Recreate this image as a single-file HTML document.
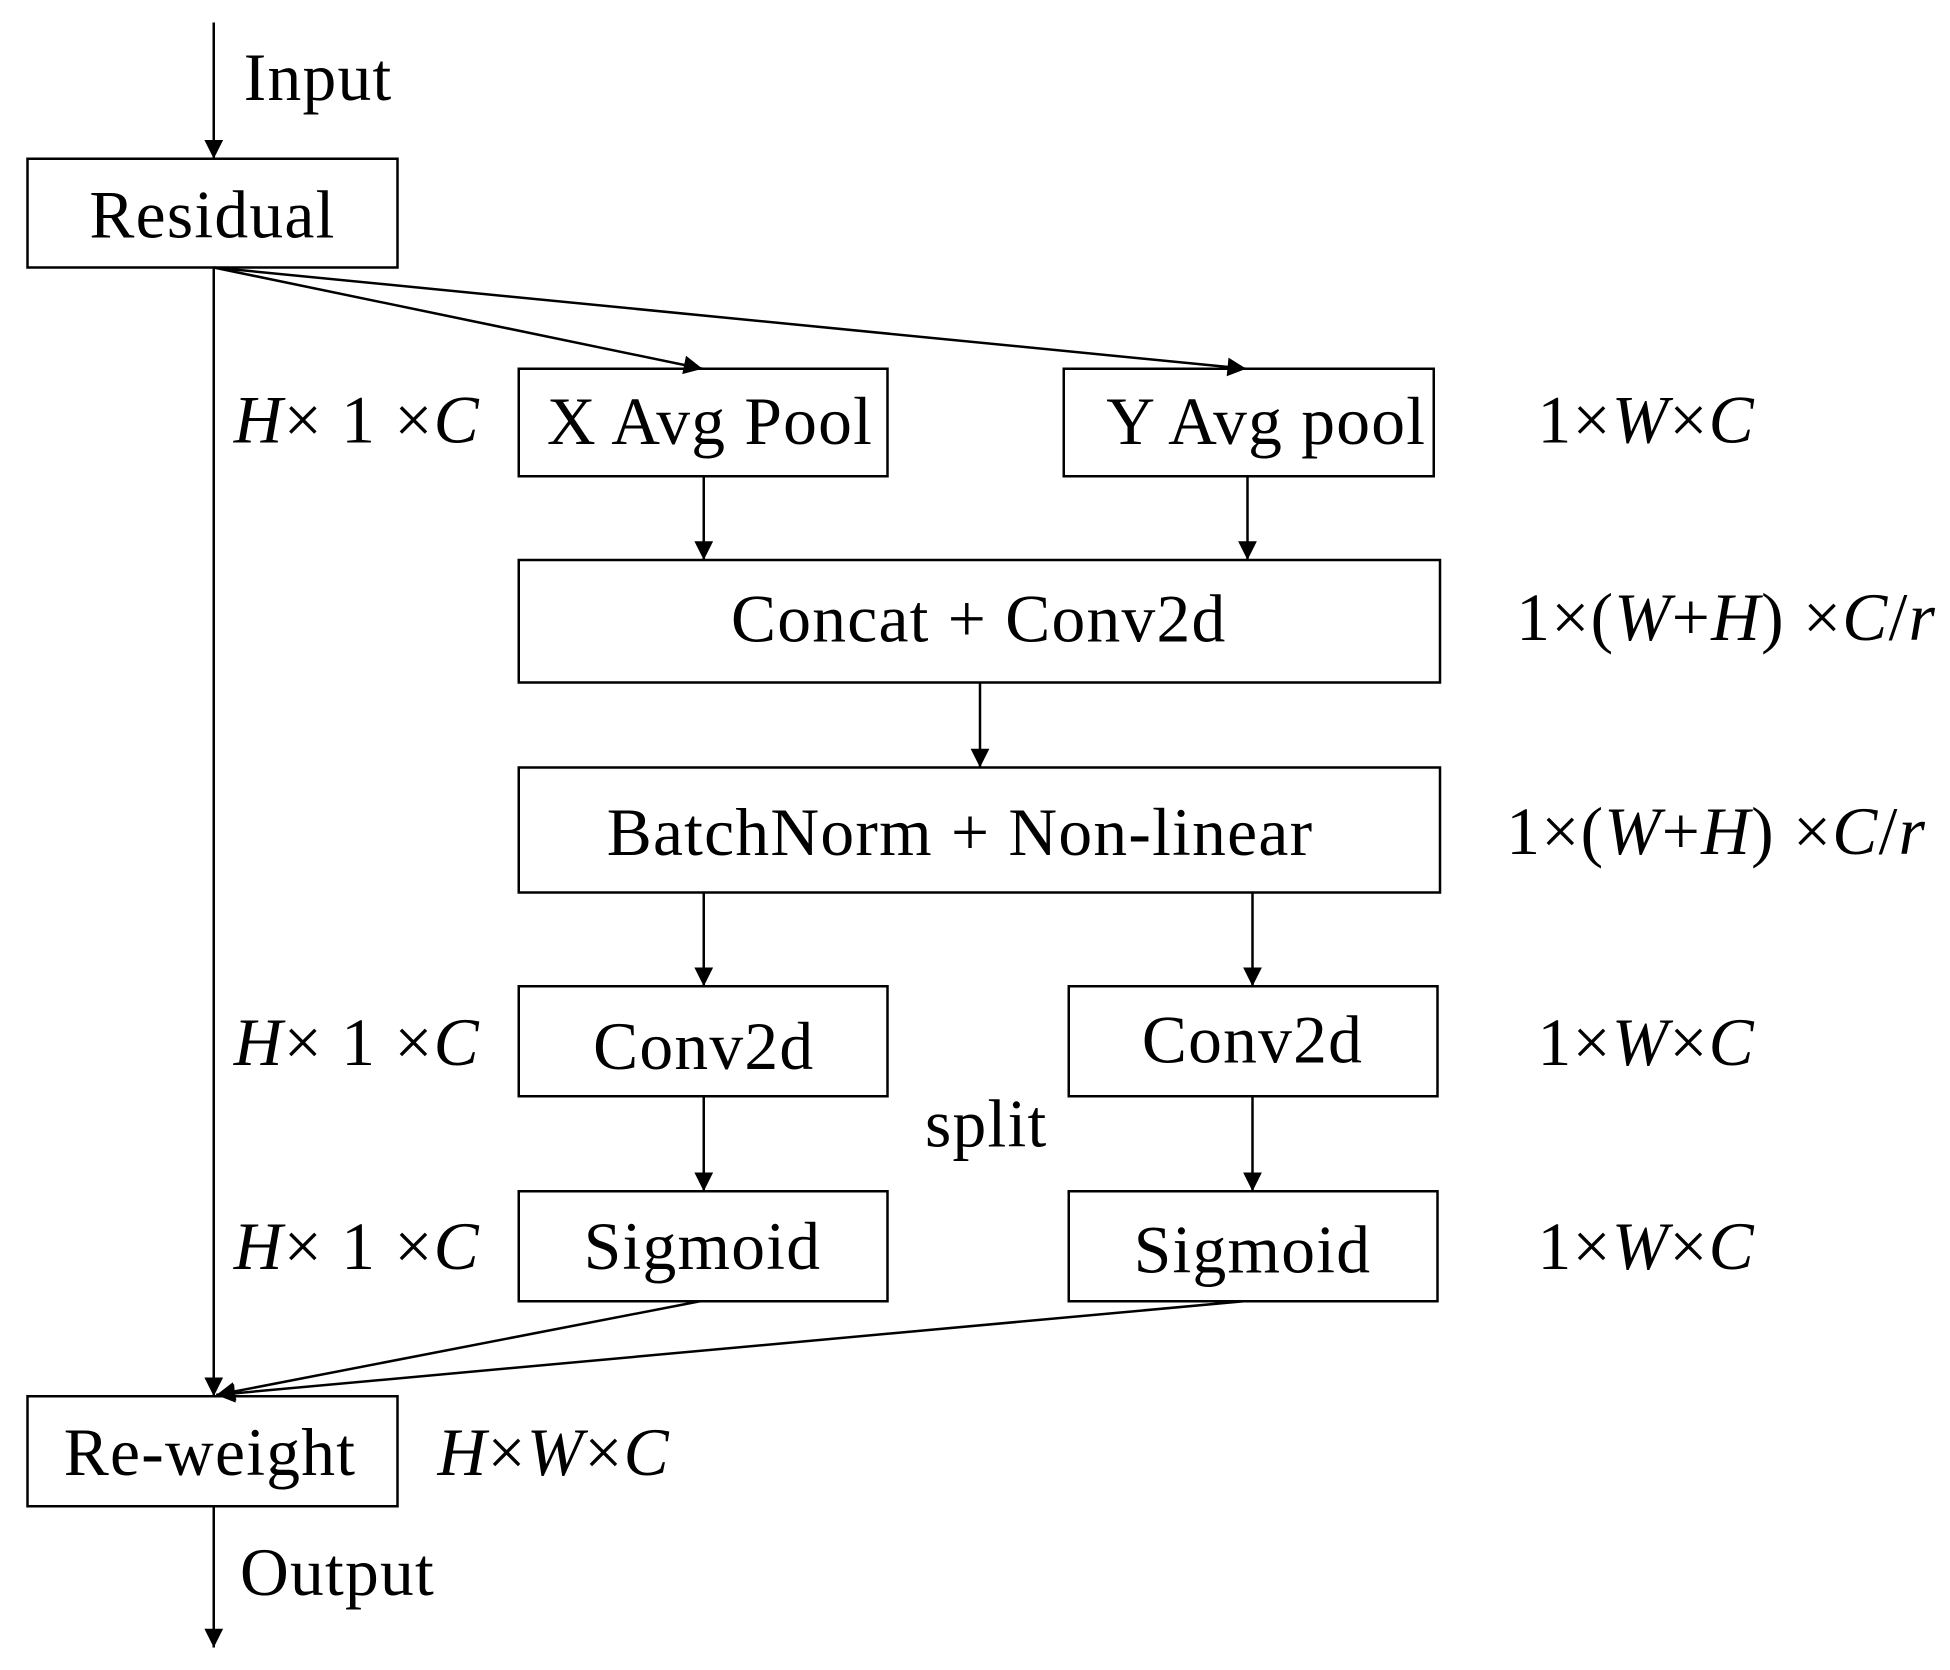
<!DOCTYPE html>
<html><head><meta charset="utf-8"><style>html,body{margin:0;padding:0;background:#fff}svg{display:block}</style></head>
<body>
<svg width="1950" height="1670" viewBox="0 0 1560 1336" xmlns="http://www.w3.org/2000/svg">
<defs>
<marker id="b" viewBox="0 0 10 10" refX="10" refY="5" markerWidth="20" markerHeight="15" markerUnits="userSpaceOnUse" orient="auto"><path d="M0,0 L10,5 L0,10 z" fill="#000"/></marker></defs>
<g fill="none" stroke="#000" stroke-width="2">
<rect x="22" y="127" width="296" height="87"/>
<rect x="415" y="295" width="295" height="86"/>
<rect x="851" y="295" width="296" height="86"/>
<rect x="415" y="448" width="737" height="98"/>
<rect x="415" y="614" width="737" height="100"/>
<rect x="415" y="789" width="295" height="88"/>
<rect x="855" y="789" width="295" height="88"/>
<rect x="415" y="953" width="295" height="88"/>
<rect x="855" y="953" width="295" height="88"/>
<rect x="22" y="1117" width="296" height="88"/>
</g>
<g stroke="#000" stroke-width="2" fill="none" marker-end="url(#b)">
<line x1="171" y1="18" x2="171" y2="127"/>
<line x1="171" y1="214" x2="171" y2="1117"/>
<line x1="171" y1="214" x2="562" y2="295"/>
<line x1="171" y1="214" x2="997" y2="295"/>
<line x1="563" y1="381" x2="563" y2="448"/>
<line x1="998" y1="381" x2="998" y2="448"/>
<line x1="784" y1="546" x2="784" y2="614"/>
<line x1="563" y1="714" x2="563" y2="789"/>
<line x1="1002" y1="714" x2="1002" y2="789"/>
<line x1="563" y1="877" x2="563" y2="953"/>
<line x1="1002" y1="877" x2="1002" y2="953"/>
<line x1="560" y1="1041" x2="173" y2="1116"/>
<line x1="995" y1="1041" x2="173" y2="1116"/>
<line x1="171" y1="1205" x2="171" y2="1318"/>
</g>
<g font-family="Liberation Serif, serif" font-size="54" letter-spacing="1" fill="#000">
<text x="195" y="80">Input</text>
<text x="170" y="190" text-anchor="middle">Residual</text>
<text x="568" y="355" text-anchor="middle">X Avg Pool</text>
<text x="1013" y="355" text-anchor="middle">Y Avg pool</text>
<text x="783" y="513" text-anchor="middle">Concat + Conv2d</text>
<text x="768" y="684" text-anchor="middle">BatchNorm + Non-linear</text>
<text x="563" y="855" text-anchor="middle">Conv2d</text>
<text x="1002" y="850" text-anchor="middle">Conv2d</text>
<text x="562" y="1015" text-anchor="middle">Sigmoid</text>
<text x="1002" y="1018" text-anchor="middle">Sigmoid</text>
<text x="168" y="1180" text-anchor="middle">Re-weight</text>
<text x="192" y="1276">Output</text>
<text x="740" y="917">split</text>
<text x="187" y="354"><tspan font-style="italic">H</tspan>× 1 ×<tspan font-style="italic">C</tspan></text>
<text x="187" y="852"><tspan font-style="italic">H</tspan>× 1 ×<tspan font-style="italic">C</tspan></text>
<text x="187" y="1015"><tspan font-style="italic">H</tspan>× 1 ×<tspan font-style="italic">C</tspan></text>
<text x="1230" y="354">1×<tspan font-style="italic">W</tspan>×<tspan font-style="italic">C</tspan></text>
<text x="1230" y="852">1×<tspan font-style="italic">W</tspan>×<tspan font-style="italic">C</tspan></text>
<text x="1230" y="1015">1×<tspan font-style="italic">W</tspan>×<tspan font-style="italic">C</tspan></text>
<text x="1213" y="512">1×(<tspan font-style="italic">W</tspan>+<tspan font-style="italic">H</tspan>) ×<tspan font-style="italic">C</tspan>/<tspan font-style="italic">r</tspan></text>
<text x="1205" y="683">1×(<tspan font-style="italic">W</tspan>+<tspan font-style="italic">H</tspan>) ×<tspan font-style="italic">C</tspan>/<tspan font-style="italic">r</tspan></text>
<text x="350" y="1180"><tspan font-style="italic">H</tspan>×<tspan font-style="italic">W</tspan>×<tspan font-style="italic">C</tspan></text>
</g>
</svg>
</body></html>
